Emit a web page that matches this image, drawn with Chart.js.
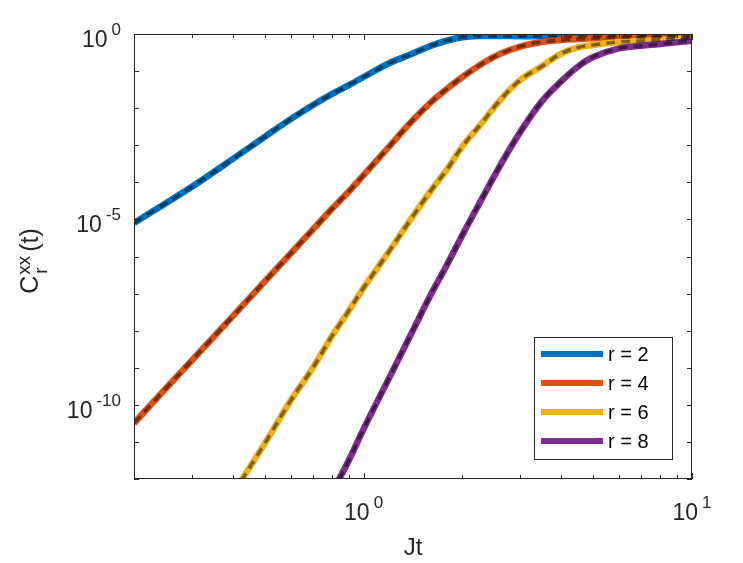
<!DOCTYPE html>
<html>
<head>
<meta charset="utf-8">
<script src="https://cdn.jsdelivr.net/npm/chart.js@4.4.0/dist/chart.umd.min.js"></script>
<style>
  html, body { margin: 0; padding: 0; background: #fff; }
</style>
</head>
<body>
<canvas id="corr_chart" width="743" height="563"></canvas>
<script>
// Jt (x axis)
const jt = [0.2, 0.25, 0.3, 0.4, 0.5, 0.6, 0.7, 0.8, 0.9, 1.0, 1.2, 1.4, 1.6, 1.8, 2.0,
            2.3, 2.6, 3.0, 3.5, 4.0, 4.5, 5, 6, 7, 8, 10];

// C_r^xx(t)
const r2 = [8.0e-6, 2.74e-5, 7.57e-5, 4.28e-4, 1.69e-3, 5.07e-3, 0.0120, 0.0238, 0.0411, 0.0692, 0.165, 0.289, 0.475, 0.668, 0.815,
            0.883, 0.883, 0.87, 0.865, 0.87, 0.875, 0.88, 0.885, 0.89, 0.895, 0.905];
const r4 = [3.2e-11, 2.77e-10, 1.57e-9, 2.47e-8, 2.11e-7, 1.21e-6, 5.27e-6, 1.90e-5, 5.55e-5, 1.57e-4, 9.5e-4, 4.37e-3, 0.0142, 0.0339, 0.0692,
            0.160, 0.289, 0.460, 0.608, 0.689, 0.733, 0.766, 0.805, 0.830, 0.840, 0.867];
const r6 = [null, null, null, 4.0e-13, 9.0e-12, 1.30e-10, 9.8e-10, 7.0e-9, 3.34e-8, 1.43e-7, 1.44e-6, 1.08e-5, 5.83e-5, 2.30e-4, 9.3e-4,
            4.13e-3, 0.0161, 0.0575, 0.137, 0.298, 0.433, 0.505, 0.608, 0.648, 0.689, 0.780];
const r8 = [null, null, null, null, null, null, null, 4.2e-13, 3.05e-12, 2.22e-11, 5.6e-10, 8.6e-9, 9.1e-8, 6.27e-7, 3.82e-6,
            3.80e-5, 2.75e-4, 2.28e-3, 0.0157, 0.0533, 0.133, 0.240, 0.411, 0.481, 0.537, 0.660];

const seriesNames = ['r = 2', 'r = 4', 'r = 6', 'r = 8'];
const seriesData = [r2, r4, r6, r8];
const seriesColors = ['#0072BD', '#D95319', '#EDB120', '#7E2F8E'];

// axis ticks
const xMajor = [1, 10];
const xMajorExp = ['0', '1'];
const xMinor = [0.3, 0.4, 0.5, 0.6, 0.7, 0.8, 0.9, 2, 3, 4, 5, 6, 7, 8, 9];
const yDecades = [0, -1, -2, -3, -4, -5, -6, -7, -8, -9, -10, -11, -12];
const yLabelled = [0, -5, -10];

const FONT = '"Liberation Sans", Arial, Helvetica, sans-serif';
const INK = '#262626';

function pts(arr) {
  return jt.map((x, i) => ({ x: x, y: arr[i] }));
}

var datasets = [];
// solid coloured lines (later series on top)
seriesData.forEach(function (arr, i) {
  datasets.push({
    label: seriesNames[i],
    data: pts(arr),
    borderColor: seriesColors[i],
    borderWidth: 6.5,
    pointRadius: 0,
    tension: 0.4,
    clip: 0,
    order: 10 - i
  });
});
// dashed overlay
seriesData.forEach(function (arr, i) {
  datasets.push({
    label: seriesNames[i] + ' dashed',
    data: pts(arr),
    borderColor: 'rgba(0,0,0,0.45)',
    borderWidth: 3.5,
    borderDash: [9, 6],
    pointRadius: 0,
    tension: 0.4,
    clip: 0,
    order: 5 - i
  });
});

function drawPow(ctx, exp, x, yBase, anchor) {
  const big = '23px ' + FONT;
  const small = '17px ' + FONT;
  ctx.font = big;
  const wBase = ctx.measureText('10').width;
  ctx.font = small;
  const wExp = ctx.measureText(exp).width;
  const gap = 4;
  const total = wBase + gap + wExp;
  const left = anchor === 'center' ? x - total / 2 : x - total;
  ctx.textAlign = 'left';
  ctx.textBaseline = 'alphabetic';
  ctx.font = big;
  ctx.fillText('10', left, yBase);
  ctx.font = small;
  ctx.fillText(exp, left + wBase + gap, yBase - 12);
}

const axisBox = {
  id: 'axisBox',
  afterDraw(chart) {
    const ctx = chart.ctx;
    const a = chart.chartArea;
    const xs = chart.scales.x;
    const ys = chart.scales.y;
    ctx.save();
    ctx.strokeStyle = INK;
    ctx.fillStyle = INK;
    ctx.lineWidth = 1;

    // box
    ctx.strokeRect(a.left + 0.5, a.top + 0.5, a.right - a.left - 1, a.bottom - a.top - 1);

    // y ticks, both sides
    ctx.beginPath();
    yDecades.forEach(function (d) {
      const py = Math.round(ys.getPixelForValue(Math.pow(10, d))) + 0.5;
      ctx.moveTo(a.left, py); ctx.lineTo(a.left + 5, py);
      ctx.moveTo(a.right, py); ctx.lineTo(a.right - 5, py);
    });
    // x ticks, top and bottom
    xMinor.forEach(function (v) {
      const px = Math.round(xs.getPixelForValue(v)) + 0.5;
      ctx.moveTo(px, a.bottom); ctx.lineTo(px, a.bottom - 4);
      ctx.moveTo(px, a.top); ctx.lineTo(px, a.top + 4);
    });
    xMajor.forEach(function (v) {
      const px = Math.round(xs.getPixelForValue(v)) + 0.5;
      ctx.moveTo(px, a.bottom); ctx.lineTo(px, a.bottom - 6);
      ctx.moveTo(px, a.top); ctx.lineTo(px, a.top + 6);
    });
    ctx.stroke();

    // tick labels
    yLabelled.forEach(function (d) {
      const py = ys.getPixelForValue(Math.pow(10, d));
      drawPow(ctx, String(d), 121, py + 13, 'right');
    });
    xMajor.forEach(function (v, i) {
      const px = xs.getPixelForValue(v);
      drawPow(ctx, xMajorExp[i], px, 520, 'center');
    });

    // x title
    ctx.font = '24px ' + FONT;
    ctx.textAlign = 'center';
    ctx.fillText('Jt', (a.left + a.right) / 2, 555);

    // y title  C^xx_r (t)
    ctx.save();
    ctx.translate(38, 261);
    ctx.rotate(-Math.PI / 2);
    ctx.textAlign = 'left';
    const fBig = '25px ' + FONT;
    const fSmall = '19px ' + FONT;
    ctx.font = fBig;
    const wC = ctx.measureText('C').width;
    const wT = ctx.measureText('(t)').width;
    ctx.font = fSmall;
    const wX = ctx.measureText('xx').width;
    const total = wC + 1 + wX + 4 + wT;
    let s = -total / 2;
    ctx.font = fBig;
    ctx.fillText('C', s, 0);
    ctx.font = fSmall;
    ctx.fillText('xx', s + wC + 1, -8);
    ctx.fillText('r', s + wC + 2, 9);
    ctx.font = fBig;
    ctx.fillText('(t)', s + wC + 1 + wX + 4, 0);
    ctx.restore();

    // legend
    const lx = 534, ly = 337, lw = 138, lh = 122;
    ctx.fillStyle = '#fff';
    ctx.fillRect(lx, ly, lw, lh);
    ctx.strokeStyle = INK;
    ctx.strokeRect(lx + 0.5, ly + 0.5, lw, lh);
    ctx.font = '20px ' + FONT;
    ctx.textAlign = 'left';
    ctx.textBaseline = 'middle';
    seriesNames.forEach(function (name, i) {
      const rowY = 354 + i * 29;
      ctx.strokeStyle = seriesColors[i];
      ctx.lineWidth = 6;
      ctx.beginPath();
      ctx.moveTo(541, rowY);
      ctx.lineTo(603, rowY);
      ctx.stroke();
      ctx.fillStyle = '#000';
      ctx.fillText(name, 608, rowY + 1);
    });
    ctx.restore();
  }
};

new Chart(document.getElementById('corr_chart'), {
  type: 'line',
  data: { datasets: datasets },
  options: {
    responsive: false,
    animation: false,
    devicePixelRatio: 1,
    layout: { padding: { left: 134, top: 34, right: 51, bottom: 84 } },
    scales: {
      x: { type: 'logarithmic', min: 0.2, max: 10, display: false },
      y: { type: 'logarithmic', min: 1e-12, max: 1, display: false }
    },
    plugins: {
      legend: { display: false },
      tooltip: { enabled: false }
    }
  },
  plugins: [axisBox]
});
</script>
</body>
</html>
